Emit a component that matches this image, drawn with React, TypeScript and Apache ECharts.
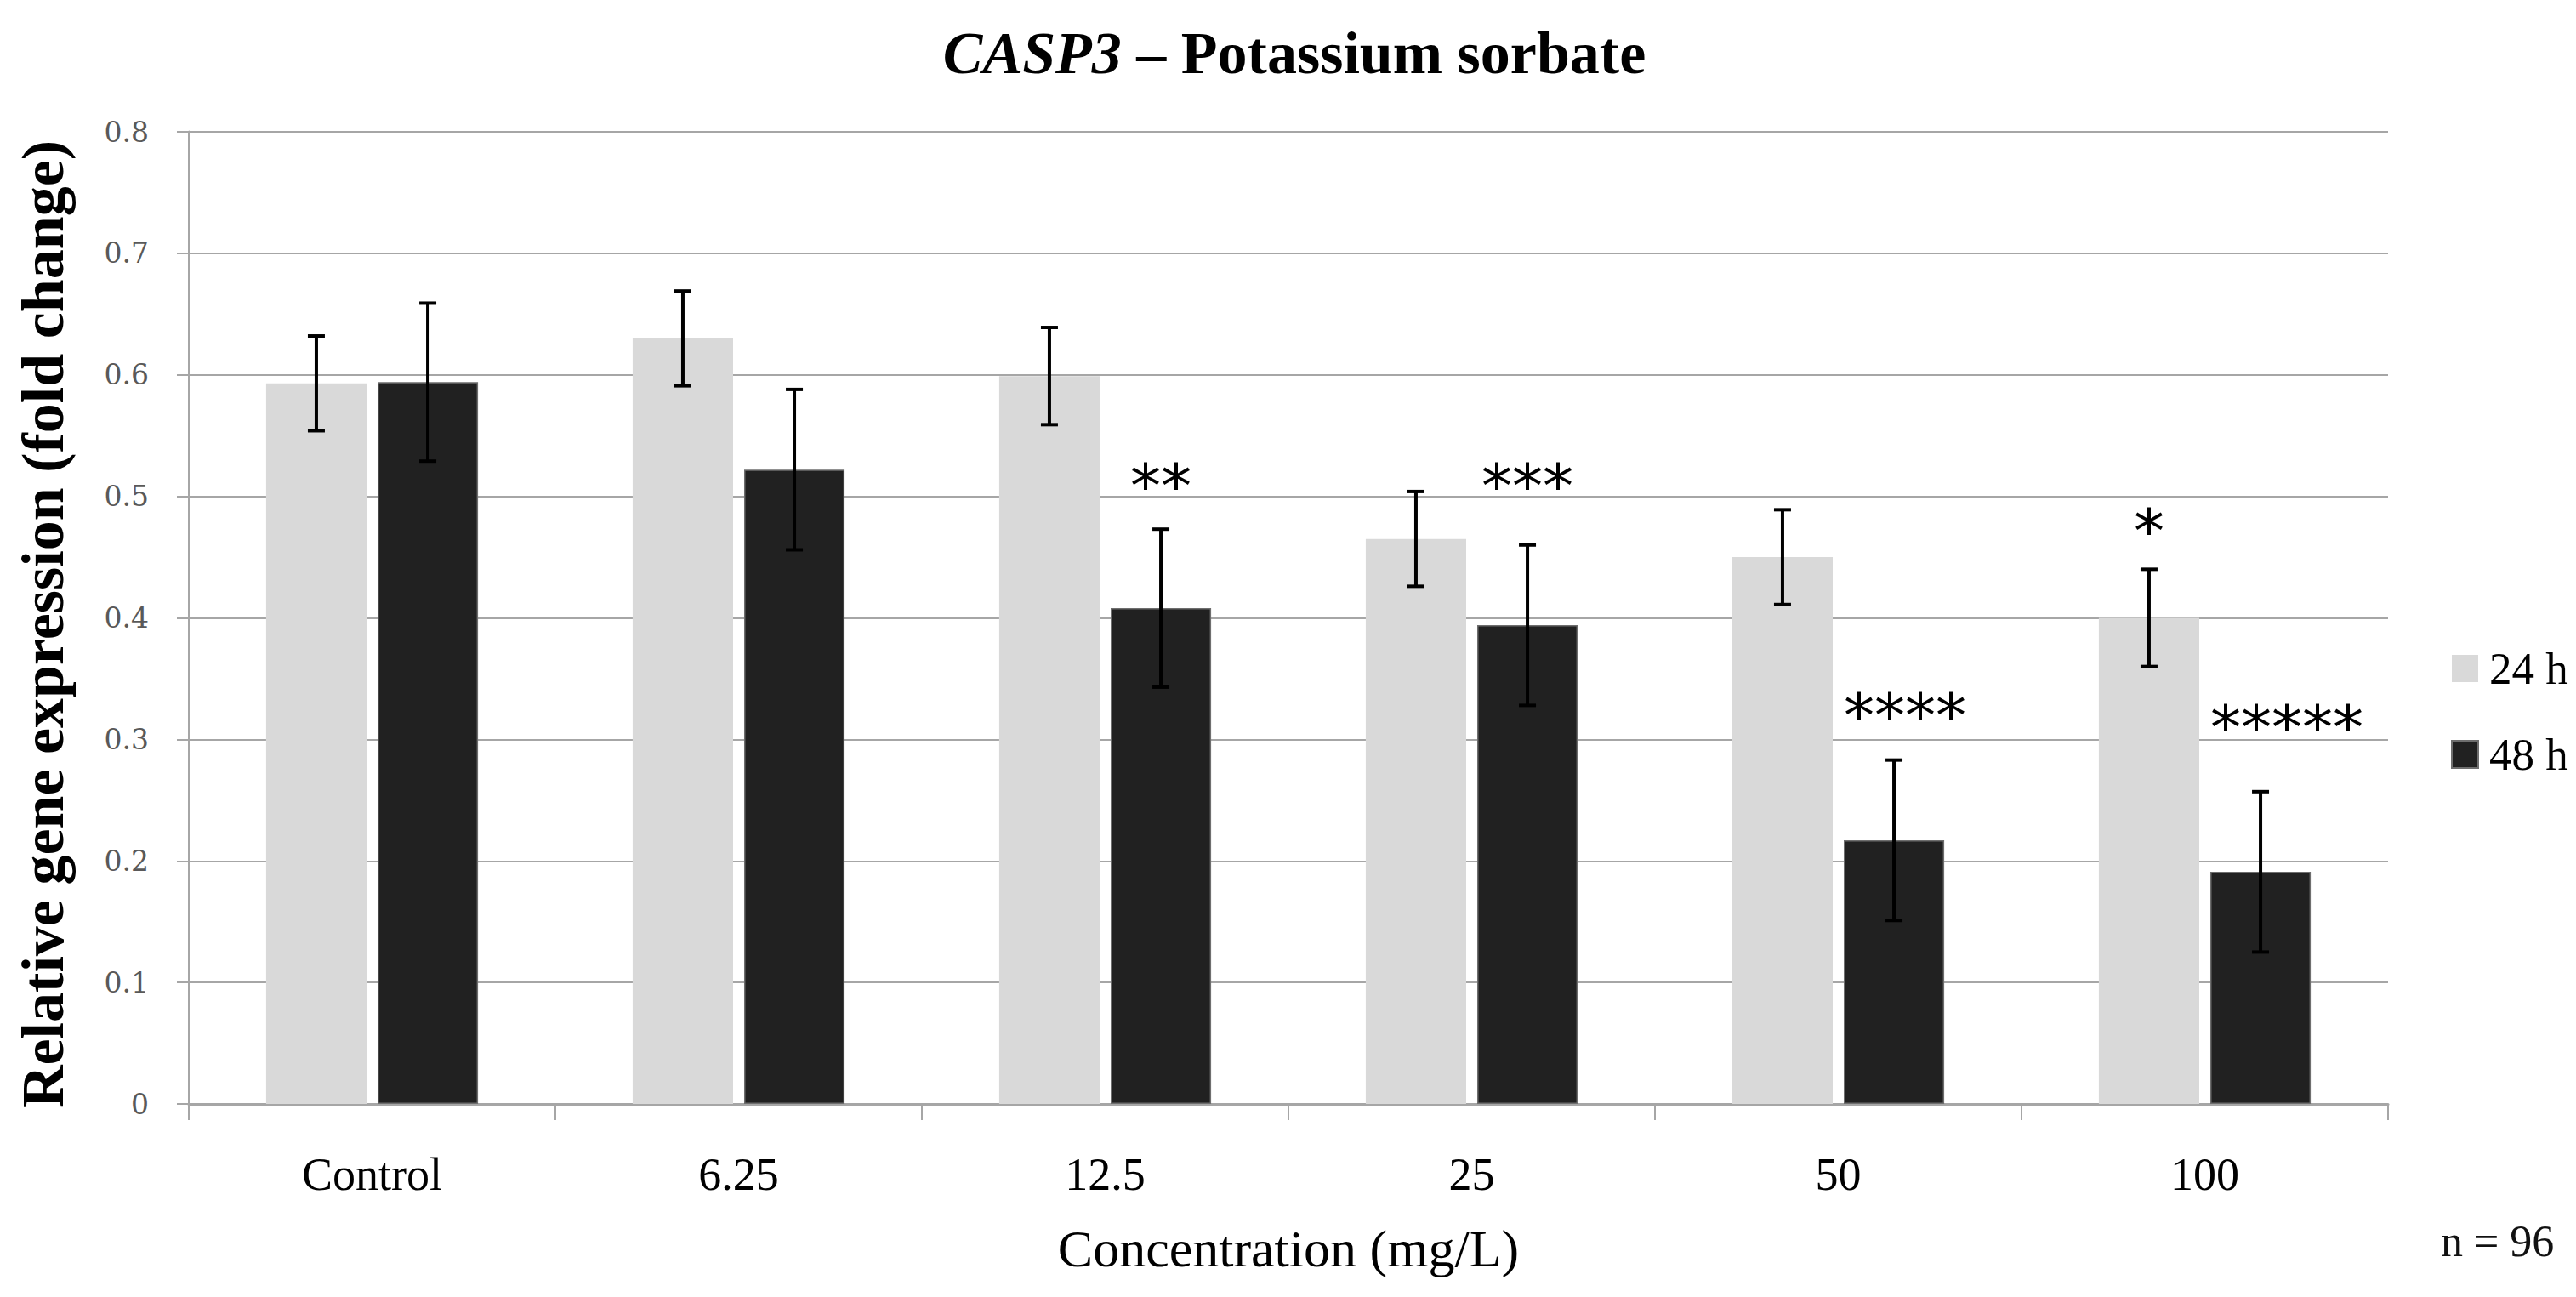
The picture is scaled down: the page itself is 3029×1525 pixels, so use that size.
import React, { useEffect, useRef } from 'react';
import * as echarts from 'echarts';

const categories = ['Control', '6.25', '12.5', '25', '50', '100'];
const values24 = [0.593, 0.63, 0.599, 0.465, 0.45, 0.4];
const errors24 = [0.039, 0.039, 0.04, 0.039, 0.039, 0.04];
const values48 = [0.594, 0.522, 0.408, 0.394, 0.217, 0.191];
const errors48 = [0.065, 0.066, 0.065, 0.066, 0.066, 0.066];
const sig24 = ['', '', '', '', '', '*'];
const sig24Y = [0, 0, 0, 0, 0, 0.483];
const sig48 = ['', '', '**', '***', '****', '*****'];
const sig48Y = [0, 0, 0.52, 0.52, 0.331, 0.321];
const seriesNames = ['24 h', '48 h'];
const sampleNote = 'n = 96';

const BAR_W = 0.274;
const BAR_GAP = 0.11;

function offsetFor(band: number, s: number) {
  const bw = band * BAR_W;
  const d = (bw + bw * BAR_GAP) / 2;
  return s === 0 ? -d : d;
}

export default function App() {
  const ref = useRef<HTMLDivElement>(null);
  useEffect(() => {
    const chart = echarts.init(ref.current!, null, { renderer: 'svg' });

    const errData: number[][] = [];
    categories.forEach((_, i) => {
      errData.push([i, values24[i], errors24[i], 0]);
      errData.push([i, values48[i], errors48[i], 1]);
    });

    const sigData: number[][] = [];
    const sigText: string[] = [];
    categories.forEach((_, i) => {
      if (sig24[i]) {
        sigData.push([i, sig24Y[i], 0]);
        sigText.push(sig24[i]);
      }
      if (sig48[i]) {
        sigData.push([i, sig48Y[i], 1]);
        sigText.push(sig48[i]);
      }
    });

    const STAR_SIZE = 72;
    const STAR_ADV = STAR_SIZE * 0.5;
    const gridColor = '#a6a6a6';

    chart.setOption({
      animation: false,
      backgroundColor: '#ffffff',
      grid: { left: 222, right: 221, top: 155, bottom: 227, containLabel: false },
      legend: {
        data: seriesNames,
        orient: 'vertical',
        left: 2877,
        top: 754,
        itemWidth: 31,
        itemHeight: 32,
        itemGap: 47,
        icon: 'rect',
        textStyle: {
          fontFamily: 'Liberation Serif',
          fontSize: 53,
          lineHeight: 54,
          color: '#000',
          padding: [0, 0, 0, 8],
        },
      },
      xAxis: {
        type: 'category',
        data: categories,
        axisLine: { show: true, lineStyle: { color: gridColor, width: 3 } },
        axisTick: { show: true, length: 19, alignWithLabel: false, lineStyle: { color: gridColor, width: 2 } },
        axisLabel: { color: '#000', fontFamily: 'Liberation Serif', fontSize: 54, margin: 56 },
        splitLine: { show: false },
      },
      yAxis: {
        type: 'value',
        min: 0,
        max: 0.8,
        interval: 0.1,
        axisLine: { show: true, lineStyle: { color: gridColor, width: 3 } },
        axisTick: { show: true, length: 14, lineStyle: { color: gridColor, width: 2 } },
        splitLine: { show: true, lineStyle: { color: gridColor, width: 2 } },
        axisLabel: { color: '#595959', fontFamily: 'DejaVu Serif', fontSize: 33, margin: 47 },
      },
      graphic: [
        {
          type: 'text',
          x: 1522,
          y: 62,
          style: {
            text: '{i|CASP3} {b|– Potassium sorbate}',
            align: 'center',
            verticalAlign: 'middle',
            rich: {
              i: { fontFamily: 'Liberation Serif', fontSize: 70, fontWeight: 'bold', fontStyle: 'italic', fill: '#000' },
              b: { fontFamily: 'Liberation Serif', fontSize: 70, fontWeight: 'bold', fill: '#000' },
            },
            fontFamily: 'Liberation Serif',
            fontSize: 70,
            fontWeight: 'bold',
            fill: '#000',
          },
        },
        {
          type: 'text',
          x: 50,
          y: 734,
          rotation: Math.PI / 2,
          style: {
            text: 'Relative gene expression (fold change)',
            align: 'center',
            verticalAlign: 'middle',
            fontFamily: 'Liberation Serif',
            fontSize: 70,
            fontWeight: 'bold',
            fill: '#000',
          },
        },
        {
          type: 'text',
          x: 1515,
          y: 1468,
          style: {
            text: 'Concentration (mg/L)',
            align: 'center',
            verticalAlign: 'middle',
            fontFamily: 'Liberation Serif',
            fontSize: 62,
            fill: '#000',
          },
        },
        {
          type: 'text',
          x: 2870,
          y: 1459,
          style: {
            text: sampleNote,
            align: 'left',
            verticalAlign: 'middle',
            fontFamily: 'Liberation Serif',
            fontSize: 52,
            fill: '#111',
          },
        },
      ],
      series: [
        {
          name: seriesNames[0],
          type: 'bar',
          data: values24,
          barWidth: BAR_W * 100 + '%',
          barGap: BAR_GAP * 100 + '%',
          itemStyle: { color: '#d9d9d9' },
          z: 2,
        },
        {
          name: seriesNames[1],
          type: 'bar',
          data: values48,
          barWidth: BAR_W * 100 + '%',
          barGap: BAR_GAP * 100 + '%',
          itemStyle: { color: '#212121', borderColor: '#6e6e6e', borderWidth: 1.5 },
          z: 2,
        },
        {
          name: 'errors',
          type: 'custom',
          data: errData,
          encode: { x: 0, y: 1 },
          z: 5,
          silent: true,
          renderItem: (params: any, api: any) => {
            const i = api.value(0);
            const v = api.value(1);
            const e = api.value(2);
            const s = api.value(3);
            const band = api.size([1, 0])[0];
            const c = api.coord([i, v]);
            const x = c[0] + offsetFor(band, s);
            const top = api.coord([i, v + e])[1];
            const bot = api.coord([i, v - e])[1];
            const cap = 10;
            const style = { stroke: '#000', lineWidth: 4 };
            return {
              type: 'group',
              children: [
                { type: 'line', shape: { x1: x, y1: top, x2: x, y2: bot }, style },
                { type: 'line', shape: { x1: x - cap, y1: top, x2: x + cap, y2: top }, style },
                { type: 'line', shape: { x1: x - cap, y1: bot, x2: x + cap, y2: bot }, style },
              ],
            };
          },
        },
        {
          name: 'significance',
          type: 'custom',
          data: sigData,
          encode: { x: 0, y: 1 },
          z: 6,
          silent: true,
          renderItem: (params: any, api: any) => {
            const i = api.value(0);
            const y = api.value(1);
            const s = api.value(2);
            const band = api.size([1, 0])[0];
            const c = api.coord([i, y]);
            const xc = c[0] + offsetFor(band, s);
            const bw = band * BAR_W;
            const txt = sigText[params.dataIndex];
            const tw = txt.length * STAR_ADV;
            const wide = tw > bw;
            return {
              type: 'text',
              x: wide ? xc - bw / 2 : xc,
              y: c[1] + STAR_SIZE * 0.22,
              style: {
                text: txt,
                align: wide ? 'left' : 'center',
                verticalAlign: 'middle',
                fontFamily: 'DejaVu Sans',
                fontSize: STAR_SIZE,
                fill: '#000',
              },
            };
          },
        },
      ],
    });

    return () => chart.dispose();
  }, []);

  return (
    <div
      ref={ref}
      style={{ position: 'absolute', left: 0, top: 0, width: 3029, height: 1525, background: '#fff' }}
    />
  );
}
